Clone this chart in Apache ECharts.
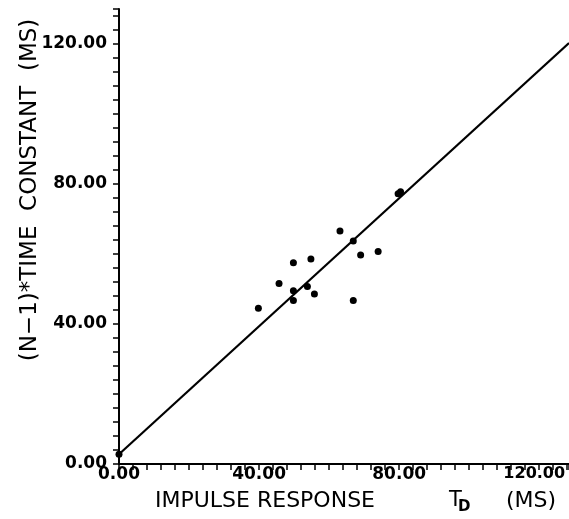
<!DOCTYPE html>
<html>
<head>
<meta charset="utf-8">
<style>html,body{margin:0;padding:0;background:#fff;}#c{width:569px;height:519px;}</style>
<script src="https://cdn.jsdelivr.net/npm/echarts@6/dist/echarts.min.js"></script>
</head>
<body>
<div id="c"></div>
<script>
// Measured data (impulse response TD, (N-1)*time constant), ms
const pointsX = [0, 39.8, 45.7, 49.8, 49.8, 49.8, 53.8, 54.8, 55.8, 63.1, 66.9, 69.0, 74.0, 66.9, 79.7, 80.4];
const pointsY = [2.8, 44.5, 51.6, 57.5, 49.5, 46.7, 50.7, 58.6, 48.6, 66.6, 63.7, 59.7, 60.7, 46.7, 77.2, 77.8];
// fitted line end points
const lineX = [0, 128.5];
const lineY = [2.8, 120.3];
const tickLabels = [0, 40, 80, 120];

const chart = echarts.init(document.getElementById('c'), null, {renderer: 'canvas'});
const font = 'DejaVu Sans';
const labelStyle = {color: '#000', fontFamily: font, fontSize: 17, fontWeight: 'bold'};
const axisCommon = {
  type: 'value',
  min: 0,
  interval: 4,
  splitLine: {show: false},
  axisLine: {show: true, onZero: false, lineStyle: {color: '#000', width: 2}},
  axisTick: {show: true, inside: false, length: 6, lineStyle: {color: '#000', width: 1.5}},
  axisLabel: Object.assign({}, labelStyle, {
    hideOverlap: false,
    formatter: v => tickLabels.indexOf(v) >= 0 ? v.toFixed(2) : ''
  })
};
chart.setOption({
  animation: false,
  backgroundColor: '#fff',
  grid: {left: 119, top: 9, bottom: 55, right: 0, containLabel: false, outerBoundsMode: 'none'},
  xAxis: Object.assign({}, axisCommon, {
    max: 128.5,
    axisLabel: Object.assign({}, axisCommon.axisLabel, {
      margin: 2,
      formatter: v => tickLabels.indexOf(v) < 0 ? '' : (v === 120 ? '{r|' + v.toFixed(2) + '}' : v.toFixed(2)),
      rich: {r: Object.assign({}, labelStyle, {fontSize: 16, padding: [0, 10, 0, 0]})}
    })
  }),
  yAxis: Object.assign({}, axisCommon, {max: 130, axisLabel: Object.assign({}, axisCommon.axisLabel, {margin: 12})}),
  graphic: [
    {type: 'text', left: 155, top: 490, style: {text: 'IMPULSE RESPONSE', font: '22px "DejaVu Sans"', fill: '#000'}},
    {type: 'text', left: 449, top: 490, style: {text: 'T', font: '21px "DejaVu Sans"', fill: '#000'}},
    {type: 'text', left: 458, top: 500, style: {text: 'D', font: 'bold 15px "DejaVu Sans"', fill: '#000'}},
    {type: 'text', left: 506, top: 490, style: {text: '(MS)', font: '22px "DejaVu Sans"', fill: '#000'}},
    {type: 'text', x: 30, y: 190, rotation: Math.PI / 2, style: {text: '(N\u22121)*TIME  CONSTANT  (MS)', font: '23px "DejaVu Sans"', fill: '#000', align: 'center', verticalAlign: 'middle'}}
  ],
  series: [
    {
      type: 'line',
      data: lineX.map((x, i) => [x, lineY[i]]),
      symbol: 'none',
      lineStyle: {color: '#000', width: 2.2},
      z: 2
    },
    {
      type: 'scatter',
      data: pointsX.map((x, i) => [x, pointsY[i]]),
      symbol: 'circle',
      symbolSize: 7,
      itemStyle: {color: '#000', opacity: 1},
      z: 3
    }
  ]
});
</script>
</body>
</html>
